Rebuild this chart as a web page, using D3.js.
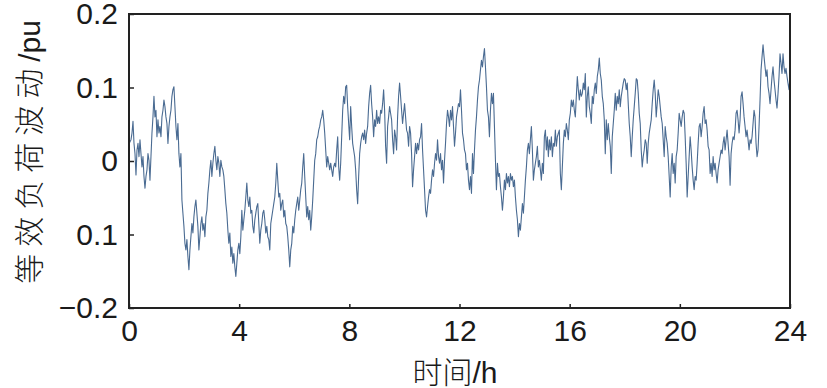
<!DOCTYPE html>
<html>
<head>
<meta charset="utf-8">
<script src="https://cdn.jsdelivr.net/npm/d3@7"></script>
<style>
  html, body { margin: 0; padding: 0; background: #fff; }
  svg { display: block; }
  .tick text { font-family: "Liberation Sans", Arial, sans-serif; font-size: 30px; fill: #1a1a1a; }
  .tick line { stroke: #222; stroke-width: 1.5; }
</style>
</head>
<body>
<svg id="chart" width="827" height="388"></svg>
<script>
// equivalent load fluctuation (pu), sampled evenly over 0..24 h
var loadPu = [
  0.024,0.026,
  // 0 - 3.8 h
  0.029,0.038,0.054,0.024,0.010,-0.019,0.015,0.024,0.006,0.029,0.010,-0.008,0.006,-0.021,-0.037,-0.021,-0.012,0.010,0.001,-0.026,0.006,0.038,0.060,0.088,
  0.060,0.069,0.033,0.056,0.038,0.047,0.033,0.060,0.069,0.083,0.074,0.060,0.051,0.024,0.047,0.060,0.069,0.088,0.097,0.101,
  0.074,0.047,0.029,0.051,0.010,-0.008,0.010,-0.053,-0.071,-0.089,-0.112,-0.121,-0.107,-0.130,
  -0.148,-0.121,-0.103,-0.085,-0.098,-0.076,-0.062,-0.053,-0.071,-0.089,-0.121,-0.103,-0.085,-0.076,-0.094,-0.085,-0.103,-0.076,-0.067,-0.044,
  -0.030,-0.012,0.001,-0.021,-0.003,0.010,0.020,0.001,-0.012,0.006,-0.003,-0.021,0.001,-0.008,-0.012,-0.021,-0.039,-0.058,-0.071,-0.094,
  -0.112,-0.098,-0.130,-0.117,-0.139,-0.126,-0.144,
  // 3.8 - 8 h
  -0.157,-0.139,-0.121,-0.112,-0.126,-0.103,-0.067,-0.094,-0.080,-0.067,-0.049,-0.030,-0.053,-0.062,-0.049,-0.071,-0.067,-0.089,-0.098,-0.080,
  -0.071,-0.062,-0.058,-0.085,-0.112,-0.094,-0.085,-0.071,-0.067,-0.080,-0.098,-0.089,-0.103,-0.107,-0.121,-0.085,-0.076,-0.067,-0.058,-0.049,
  -0.030,-0.003,-0.026,-0.049,-0.044,-0.067,-0.058,-0.053,-0.076,-0.067,-0.085,-0.089,-0.103,-0.121,-0.144,-0.121,-0.112,-0.089,-0.098,-0.080,
  -0.067,-0.058,-0.049,-0.067,-0.053,-0.039,-0.030,-0.008,0.010,-0.021,-0.049,-0.076,-0.062,-0.080,-0.067,-0.094,-0.076,-0.053,-0.026,0.001,
  0.010,0.029,0.033,0.042,0.047,0.056,0.060,0.069,0.056,0.038,0.015,-0.008,0.006,-0.003,-0.012,-0.003,-0.012,-0.021,-0.008,-0.003,
  -0.008,0.015,0.033,-0.008,-0.026,-0.003,0.033,0.069,0.088,0.078,0.101,0.103,0.074,0.051,0.029,
  // 8 - 12.2 h
  0.074,0.047,0.024,0.015,0.006,-0.012,-0.039,-0.058,-0.021,0.010,0.024,0.033,0.038,0.029,0.042,0.024,0.038,0.047,0.074,0.092,
  0.103,0.078,0.060,0.033,0.056,0.047,0.069,0.051,0.060,0.051,0.069,0.065,0.078,0.097,0.069,0.020,-0.003,0.047,0.060,0.074,
  0.065,0.056,0.029,0.010,0.042,0.033,0.015,0.060,0.088,0.106,0.088,0.069,0.051,0.065,0.078,0.060,0.042,0.038,0.020,0.047,
  0.038,0.010,-0.035,-0.012,0.006,0.024,0.010,0.024,0.015,0.029,0.033,0.051,0.015,-0.012,-0.039,-0.067,-0.076,-0.062,-0.049,-0.039,
  -0.044,-0.026,-0.012,-0.021,-0.003,0.010,0.001,0.029,0.006,-0.003,0.010,-0.012,0.001,-0.030,0.001,0.024,0.051,0.069,0.060,0.047,
  0.069,0.056,0.074,0.047,0.020,0.038,0.060,0.069,0.078,0.074,0.097,0.069,0.038,0.029,0.015,
  // 12.2 - 16.4 h
  0.010,-0.012,-0.003,-0.026,-0.039,-0.021,-0.044,0.010,-0.017,0.015,0.042,0.060,0.083,0.101,0.110,0.124,0.137,0.128,0.142,0.153,
  0.128,0.101,0.069,0.060,0.033,0.069,0.092,0.078,0.092,0.047,0.001,-0.039,-0.003,-0.021,-0.017,-0.035,-0.049,-0.067,-0.049,-0.026,
  -0.039,-0.017,-0.030,-0.021,-0.035,-0.017,-0.026,-0.021,-0.035,-0.026,-0.049,-0.067,-0.080,-0.103,-0.085,-0.094,-0.076,-0.058,-0.071,-0.049,
  -0.026,-0.008,0.015,0.024,0.010,0.029,0.047,0.015,-0.026,-0.012,-0.003,0.006,0.020,-0.008,0.001,-0.012,-0.026,-0.003,-0.017,0.033,
  0.042,0.015,0.033,0.006,0.029,0.015,0.033,0.006,0.024,0.020,0.042,0.020,0.033,0.038,0.042,-0.017,-0.039,-0.008,0.024,0.042,
  0.033,0.051,0.042,0.029,0.056,0.065,0.083,0.074,0.083,0.069,0.060,0.088,0.115,0.097,0.083,
  // 16.4 - 20.4 h
  0.097,0.088,0.092,0.106,0.097,0.119,0.060,0.088,0.101,0.074,0.065,0.051,0.088,0.078,0.097,0.106,0.092,0.115,0.124,0.140,
  0.119,0.110,0.088,0.078,0.056,0.010,0.056,0.029,0.051,0.033,0.020,-0.017,0.033,0.051,0.069,0.092,0.069,0.088,0.078,0.097,
  0.074,0.088,0.097,0.106,0.112,0.110,0.097,0.106,0.078,0.051,0.033,0.006,0.033,0.056,0.074,0.092,0.112,0.110,0.092,0.065,
  0.051,0.015,-0.008,0.006,0.015,0.029,0.024,-0.003,0.024,0.038,0.047,0.056,0.078,0.097,0.110,0.092,0.060,0.078,0.097,0.088,
  0.074,0.060,0.051,0.029,0.006,0.047,0.033,0.024,0.006,-0.021,-0.049,-0.008,0.010,-0.017,-0.003,-0.030,0.006,0.015,0.038,0.065,
  0.056,0.047,0.060,0.069,0.065,0.033,-0.003,-0.049,-0.021,0.006,
  // 20.4 - 24 h
  0.033,0.015,-0.008,-0.026,-0.039,-0.021,-0.026,-0.003,0.024,0.047,0.051,0.033,0.047,0.065,0.074,0.051,0.056,0.042,0.020,0.015,
  -0.017,-0.003,-0.021,0.006,-0.012,-0.003,-0.017,-0.030,-0.012,-0.003,0.006,0.015,0.010,0.024,0.033,0.015,0.029,0.042,0.024,0.006,
  -0.033,0.010,0.024,0.033,0.029,0.042,0.065,0.069,0.056,0.038,0.056,0.088,0.094,0.078,0.060,0.047,0.033,0.042,0.029,0.015,
  0.029,0.024,0.033,0.051,0.069,0.060,0.024,0.006,0.015,0.047,0.083,0.124,0.142,0.158,0.142,0.128,0.115,0.124,0.101,0.092,
  0.078,0.097,0.115,0.128,0.110,0.097,0.083,0.072,0.092,0.115,0.146,0.133,0.119,0.146,0.128,0.119,0.126,0.115,0.106,0.097,
  0.115
];
var hours = loadPu.map(function(d, i){ return i * 24 / (loadPu.length - 1); });

var hourTicks = [0, 4, 8, 12, 16, 20, 24];
var puTicks = [0.2, 0.1, 0, -0.1, -0.2];
var puTickLabels = ["0.2", "0.1", "0", "0.1", "\u22120.2"];

var xTitle = "时间/h";
var yTitleCjk = "等效负荷波动";
var yTitleUnit = "/pu";

(function(){
  var plotL = 129, plotR = 790, plotT = 14, plotB = 308;

  var svg = d3.select("#chart");

  var x = d3.scaleLinear().domain([0, 24]).range([plotL, plotR]);
  var y = d3.scaleLinear().domain([-0.2, 0.2]).range([plotB, plotT]);

  svg.append("clipPath").attr("id", "plotclip")
    .append("rect")
    .attr("x", plotL).attr("y", plotT)
    .attr("width", plotR - plotL).attr("height", plotB - plotT);

  var line = d3.line()
    .x(function(d, i){ return x(hours[i]); })
    .y(function(d){ return y(d); });

  svg.append("path")
    .datum(loadPu)
    .attr("clip-path", "url(#plotclip)")
    .attr("d", line)
    .attr("fill", "none")
    .attr("stroke", "#4a6b92")
    .attr("stroke-width", 1.1)
    .attr("stroke-linejoin", "round");

  var xAxis = d3.axisBottom(x)
    .tickValues(hourTicks)
    .tickSizeInner(-4)
    .tickSizeOuter(0)
    .tickPadding(12);

  var gx = svg.append("g")
    .attr("transform", "translate(0," + plotB + ")")
    .call(xAxis);
  gx.select(".domain").remove();

  var yAxis = d3.axisLeft(y)
    .tickValues(puTicks)
    .tickFormat(function(d, i){ return puTickLabels[i]; })
    .tickSizeInner(-5)
    .tickSizeOuter(0)
    .tickPadding(11);

  var gy = svg.append("g")
    .attr("transform", "translate(" + plotL + ",0)")
    .call(yAxis);
  gy.select(".domain").remove();

  // frame
  svg.append("rect")
    .attr("x", plotL).attr("y", plotT)
    .attr("width", plotR - plotL).attr("height", plotB - plotT)
    .attr("fill", "none")
    .attr("stroke", "#222")
    .attr("stroke-width", 2);

  svg.append("text")
    .attr("x", 455)
    .attr("y", 383)
    .attr("text-anchor", "middle")
    .style("font-family", "\"Liberation Sans\", \"Noto Sans CJK SC\", sans-serif")
    .style("font-size", "30px")
    .style("font-weight", 300)
    .attr("fill", "#1a1a1a")
    .text(xTitle);

  var yt = svg.append("text")
    .attr("transform", "translate(40,152) rotate(-90)")
    .attr("text-anchor", "middle")
    .style("font-family", "\"Liberation Sans\", \"Noto Sans CJK SC\", sans-serif")
    .style("font-size", "30px")
    .style("font-weight", 300)
    .attr("fill", "#1a1a1a");
  yt.append("tspan").style("letter-spacing", "7px").text(yTitleCjk);
  yt.append("tspan").text(yTitleUnit);
})();
</script>
</body>
</html>
